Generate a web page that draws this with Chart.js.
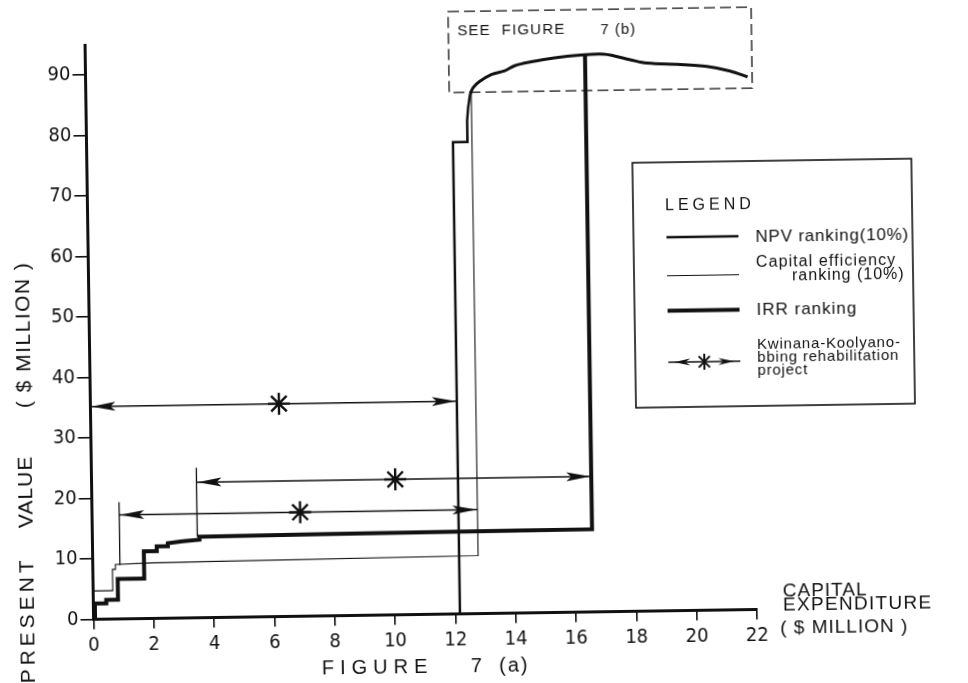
<!DOCTYPE html>
<html>
<head>
<meta charset="utf-8">
<title>Figure 7(a)</title>
<script src="https://cdn.jsdelivr.net/npm/chart.js@4.4.1/dist/chart.umd.min.js"></script>
<style>
  html, body { margin: 0; padding: 0; background: #fff; overflow: hidden; }
  /* the scanned figure sits slightly askew */
  #chart { display: block; transform: rotate(-0.85deg); }
</style>
</head>
<body>
<canvas id="chart" width="968" height="683"></canvas>
<script>
// capital expenditure ($ million) against cumulative present value ($ million)
const npvCapex = [0, 12.15, 12.15, 12.63, 12.63, 12.63, 12.67, 12.74];
const npvValue = [0, 0, 78.0, 78.0, 79.6, 81.5, 83.7, 85.9];

// common upper part, detailed in figure 7(b)
const topCapex = [12.74, 12.85, 13.07, 13.46, 13.9, 14.23, 14.78, 15.55, 16.43, 17.19, 17.52, 18.07, 18.62, 19.72, 20.6, 21.37, 21.95];
const topValue = [85.9, 87.0, 88.0, 89.1, 89.7, 90.5, 91.1, 91.7, 92.1, 92.2, 91.9, 91.2, 90.6, 90.3, 89.9, 89.1, 88.1];

const effCapex = [0, 0, 0.65, 0.65, 0.75, 0.75, 2.0, 12.78, 12.78];
const effValue = [0, 4.7, 4.7, 8.2, 8.2, 9.0, 9.2, 9.6, 86.4];

const irrCapex = [0, 0.05, 0.05, 0.43, 0.43, 0.82, 0.82, 1.7, 1.7, 2.13, 2.13, 2.5, 2.5, 3.0, 3.55, 3.55, 7.5, 16.57, 16.57];
const irrValue = [0, 0, 2.6, 2.6, 3.2, 3.2, 6.6, 6.6, 11.1, 11.1, 11.9, 11.9, 12.4, 12.7, 12.9, 13.4, 13.5, 13.7, 92.15];

// Kwinana-Koolyanobbing project: span in each ranking (NPV, capital efficiency, IRR)
const kwFrom = [0, 0.9, 3.48];
const kwTo = [12.15, 12.78, 16.57];
const kwLevel = [35.2, 17.2, 22.4];
const kwStar = [6.25, 6.9, 10.07];
const kwBarLow = [null, 8.9, 13.4];
const kwBarHigh = [null, 19.3, 24.8];

const xTicks = [0, 2, 4, 6, 8, 10, 12, 14, 16, 18, 20, 22];
const yTicks = [0, 10, 20, 30, 40, 50, 60, 70, 80, 90];

const ink = '#111';
const narrow = "'Liberation Sans Narrow', 'DejaVu Sans Condensed', 'Liberation Sans', sans-serif";
const plain = "'Liberation Sans', 'DejaVu Sans', sans-serif";

const pts = (xs, ys) => xs.map((x, i) => ({ x, y: ys[i] }));

function line(data, width, extra = {}) {
  return Object.assign({
    data, borderColor: ink, borderWidth: width, pointRadius: 0,
    fill: false, tension: 0, showLine: true
  }, extra);
}

const datasets = [
  line(pts(npvCapex, npvValue), 2.5),
  line(pts(topCapex, topValue), 3, { tension: 0.35 }),
  line(pts(effCapex, effValue), 1.1),
  line(pts(irrCapex, irrValue), 4)
];

kwFrom.forEach((from, i) => {
  datasets.push(line([{ x: from, y: kwLevel[i] }, { x: kwTo[i], y: kwLevel[i] }], 1.5));
  if (kwBarLow[i] !== null) {
    datasets.push(line([{ x: from, y: kwBarLow[i] }, { x: from, y: kwBarHigh[i] }], 1.3));
  }
});

datasets.push({
  type: 'scatter',
  data: pts(kwStar, kwLevel),
  pointStyle: 'star', pointRadius: 11, borderWidth: 2.4,
  borderColor: ink, backgroundColor: ink, showLine: false
});

function head(ctx, tipX, tipY, dir, len, half) {
  ctx.beginPath();
  ctx.moveTo(tipX, tipY);
  ctx.lineTo(tipX - dir * len, tipY - half);
  ctx.lineTo(tipX - dir * (len - 5), tipY);
  ctx.lineTo(tipX - dir * len, tipY + half);
  ctx.closePath();
  ctx.fill();
}

const arrowHeads = {
  id: 'arrowHeads',
  afterDatasetsDraw(chart) {
    const { ctx, scales: { x, y } } = chart;
    ctx.save();
    ctx.fillStyle = ink;
    kwFrom.forEach((from, i) => {
      const py = y.getPixelForValue(kwLevel[i]);
      head(ctx, x.getPixelForValue(from) + 1, py, -1, 24, 4.5);
      head(ctx, x.getPixelForValue(kwTo[i]) - 1, py, 1, 24, 4.5);
    });
    ctx.restore();
  }
};

function text(ctx, str, x, y, font, spacing = 0, align = 'left') {
  ctx.font = font;
  ctx.letterSpacing = spacing + 'px';
  ctx.textAlign = align;
  ctx.fillText(str, x, y);
  ctx.letterSpacing = '0px';
}

const frame = {
  id: 'frame',
  afterDraw(chart) {
    const { ctx, scales: { x, y } } = chart;
    ctx.save();
    ctx.fillStyle = ink;
    ctx.strokeStyle = ink;
    ctx.textBaseline = 'middle';

    // dashed box pointing to figure 7(b)
    const bx0 = x.getPixelForValue(12.05), bx1 = x.getPixelForValue(22.1);
    const by0 = y.getPixelForValue(99.6), by1 = y.getPixelForValue(86.2);
    ctx.lineWidth = 1.3;
    ctx.setLineDash([11, 5]);
    ctx.strokeRect(bx0, by0, bx1 - bx0, by1 - by0);
    ctx.setLineDash([]);
    text(ctx, 'SEE  FIGURE', bx0 + 9, by0 + 20, '15px ' + plain, 1.2);
    text(ctx, '7 (b)', bx0 + 152, by0 + 21, '15px ' + plain, 1);

    // y axis title
    ctx.save();
    ctx.translate(24, 0);
    ctx.rotate(-Math.PI / 2);
    text(ctx, 'PRESENT', -613, 0, '21px ' + plain, 4, 'center');
    text(ctx, 'VALUE', -485, 0, '21px ' + plain, 1, 'center');
    text(ctx, '( $ MILLION )', -328, 0, '21px ' + plain, 1.5, 'center');
    ctx.restore();

    // x axis titles
    text(ctx, 'FIGURE', 317, 666, '20px ' + plain, 6);
    text(ctx, '7  (a)', 466, 666, '20px ' + plain, 2);
    text(ctx, 'CAPITAL', 779, 596, '19px ' + plain, 1);
    text(ctx, 'EXPENDITURE', 779, 609.5, '19px ' + plain, 1.3);
    text(ctx, '( $ MILLION )', 776, 632.5, '19px ' + plain, 1);

    // legend box
    ctx.lineWidth = 1.6;
    ctx.strokeRect(635, 165, 279, 245);
    text(ctx, 'LEGEND', 667, 209, '16px ' + plain, 4);

    const sx0 = 668, sx1 = 740, tx = 757;
    ctx.lineWidth = 2.5;
    ctx.beginPath(); ctx.moveTo(sx0, 240); ctx.lineTo(sx1, 240); ctx.stroke();
    text(ctx, 'NPV ranking(10%)', tx, 241, '17px ' + plain, 0.8);

    ctx.lineWidth = 1.1;
    ctx.beginPath(); ctx.moveTo(sx0, 278.5); ctx.lineTo(sx1, 278.5); ctx.stroke();
    text(ctx, 'Capital efficiency', tx, 267, '16px ' + plain, 1.1);
    text(ctx, 'ranking (10%)', tx + 36, 281, '16px ' + plain, 1);

    ctx.lineWidth = 4;
    ctx.beginPath(); ctx.moveTo(sx0, 313.5); ctx.lineTo(sx1, 313.5); ctx.stroke();
    text(ctx, 'IRR ranking', tx, 314, '17px ' + plain, 1);

    ctx.lineWidth = 1.5;
    ctx.beginPath(); ctx.moveTo(sx0, 365); ctx.lineTo(sx1, 365); ctx.stroke();
    head(ctx, sx0 + 6, 365, -1, 16, 3.5);
    head(ctx, sx1 - 6, 365, 1, 16, 3.5);
    ctx.lineWidth = 2;
    const cx = 704, cy = 365, r = 8;
    ctx.beginPath();
    ctx.moveTo(cx, cy - r); ctx.lineTo(cx, cy + r);
    ctx.moveTo(cx - r * 0.7, cy - r * 0.7); ctx.lineTo(cx + r * 0.7, cy + r * 0.7);
    ctx.moveTo(cx + r * 0.7, cy - r * 0.7); ctx.lineTo(cx - r * 0.7, cy + r * 0.7);
    ctx.stroke();
    text(ctx, 'Kwinana-Koolyano-', tx, 349, '15px ' + plain, 0.8);
    text(ctx, 'bbing rehabilitation', tx, 362, '15px ' + plain, 0.8);
    text(ctx, 'project', tx, 375, '15px ' + plain, 0.8);

    ctx.restore();
  }
};

new Chart(document.getElementById('chart'), {
  type: 'line',
  data: { datasets },
  plugins: [arrowHeads, frame],
  options: {
    responsive: false,
    animation: false,
    devicePixelRatio: 1,
    layout: { padding: { left: 0, right: 215, top: 39, bottom: 29.5 } },
    plugins: { legend: { display: false }, tooltip: { enabled: false } },
    scales: {
      x: {
        type: 'linear', min: 0, max: 22,
        afterBuildTicks: s => { s.ticks = xTicks.map(v => ({ value: v })); },
        afterFit: s => { s.height = 40; },
        ticks: { color: ink, font: { family: narrow, size: 20 }, padding: 4, maxRotation: 0, autoSkip: false },
        grid: { drawOnChartArea: false, tickLength: 10, color: ink, lineWidth: 1.6 },
        border: { color: ink, width: 3 }
      },
      y: {
        type: 'linear', min: 0, max: 95,
        afterBuildTicks: s => { s.ticks = yTicks.map(v => ({ value: v })); },
        afterFit: s => { s.width = 89.5; },
        ticks: { color: ink, font: { family: narrow, size: 20 }, padding: 2 },
        grid: { drawOnChartArea: false, tickLength: 13, color: ink, lineWidth: 1.6 },
        border: { color: ink, width: 3 }
      }
    }
  }
});
</script>
</body>
</html>
